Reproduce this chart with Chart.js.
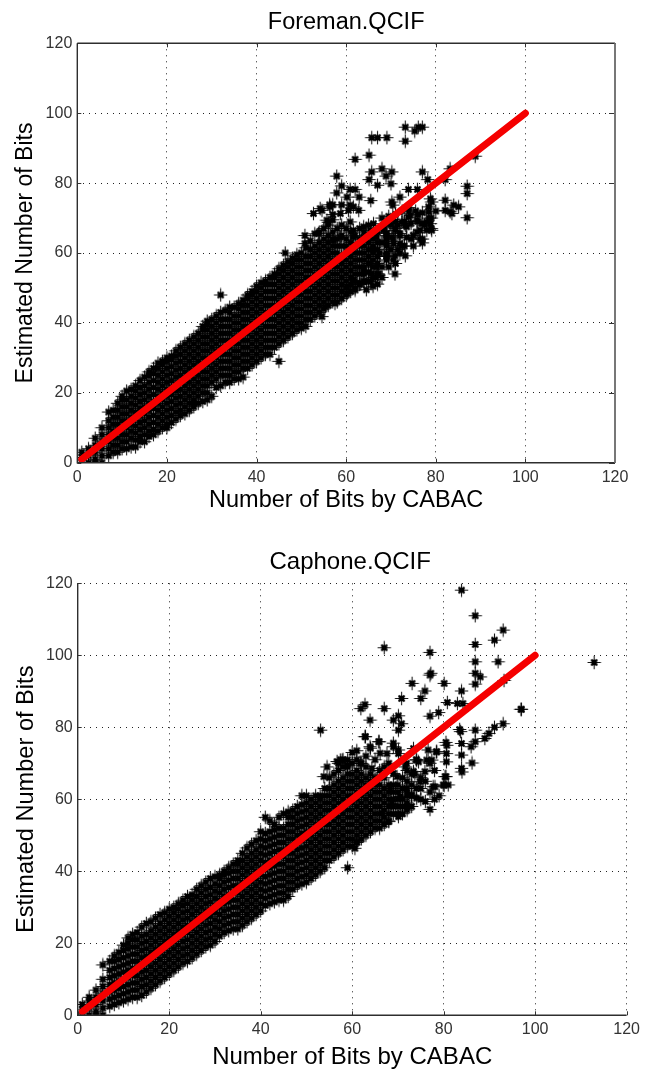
<!DOCTYPE html>
<html><head><meta charset="utf-8">
<script src="https://cdn.jsdelivr.net/npm/chart.js@4"></script>
<style>
html,body{margin:0;padding:0;background:#fff;width:645px;height:1072px;overflow:hidden}
.box{position:absolute;left:0;width:645px}
canvas{display:block}
</style></head><body>
<div class="box" style="top:0;height:515px"><canvas id="c1" width="645" height="515"></canvas></div>
<div class="box" style="top:540px;height:532px"><canvas id="c2" width="645" height="532"></canvas></div>
<script>
const axisTicks = [0,20,40,60,80,100,120];
const refLineX = [1,100];
const refLineY = [1,100];

const foremanColumnX = [1,2.5,4,5.5,7,9,11,13,15,17,19,21,23,25,27,29,31,33,35,37,39,41,43,45,47,49,51,53,55,57,59,61,63,65,67,69];
const foremanColumnY = [
[0,1.5,3],[0,2,4],[0,1,3,5,7],[0,2,4,6,8,10],[2,4,6,8,10,12,14.5],[3,5,7,9,11,13,15,17],
[4,6,8,10,12,14,16,18,20.5],[4.5,6.5,8.5,10.5,12.5,14.5,16.5,18.5,20.5,22],[6,8,10,12,14,16,18,20,22,24.5],
[8,9.5,11.5,13.5,15.5,17.5,19.5,21.5,23.5,25.5,27],[10,12,14,16,18,20,22,24,26,28,29],
[11.5,13.5,15.5,17.5,19.5,21.5,23.5,25.5,27.5,29.5,30.5],[13.5,15,17,19,21,23,25,27,29,31,33],
[15,17,19,21,23,25,27,29,31,33,35],[17,19,21,23,25,27,29,31,33,35,37],[18,20,22,24,26,28,30,32,34,36,38,39.5],
[21.5,24,26,28,30,32,34,36,38,40,42],[23,25,27,29,31,33,35,37,39,41,43.5],[24,26,28,30,32,34,36,38,40,42,44.5],
[24.5,27,29,31,33,35,37,39,41,43,45,46.5],[28,30,32,34,36,38,40,42,44,46,48,49],[30,32,34,36,38,40,42,44,46,48,50,51.5],
[31,33,35,37,39,41,43,45,47,49,51,53],[34,36,38,40,42,44,46,48,50,52,54,55.5],[36,38,40,42,44,46,48,50,52,54,56,57.5],
[38,40,42,44,46,48,50,52,54,56,58,59.5],[39,41,43,45,47,49,51,53,55,57,59,61.5],[42,44,46,48,50,52,54,56,58,60,62,65.5],
[44,46,48,50,52,54,56,58,60,62,64,67],[46,48,50,52,54,56,58,60,62,64,66,69.5],[47,49,51,53,55,57,59,62,65,68],
[49,51,53,55,57,59,61,63,66],[51,54,56,58,60,62,64,67],[52,54.5,57,59,61,63,65,68],[54,57,59,61,63,66],[58,60,62,65]
];
const foremanInnerX = [8,10,12,14,16,18,20,22,24,26,28,30,32,34,36,38,40,42,44,46,48,50,52,54,56,58,60,62,64,66];
const foremanInnerY = [
[3,5,7,9,11,13,15],[4,6,8,10,12,14,16,18,19],[4.5,7,9,11,13,15,17,19,21],[6,7.5,9.5,11.5,13.5,15.5,17.5,19.5,21.5,23.5],
[7.5,9,11,13,15,17,19,21,23,25,26],[9,11,13,15,17,19,21,23,25,27,28.5],[11,13,15,17,19,21,23,25,27,29,30],
[12.5,14.5,16.5,18.5,20.5,22.5,24.5,26.5,28.5,30.5,32],[14,16,18,20,22,24,26,28,30,32,34],[16,18,20,22,24,26,28,30,32,34,36],
[17.5,20,22,24,26,28,30,32,34,36,38,39],[19,23,25,27,29,31,33,35,37,39,41],[22,25,27,29,31,33,35,37,39,41,43],
[23,25,27,29,31,33,35,37,39,41,43,44.5],[24,26,28,30,32,34,36,38,40,42,44,45.5],[27,29,31,33,35,37,39,41,43,45,47,48],
[29,31,33,35,37,39,41,43,45,47,49,50.5],[31,33,35,37,39,41,43,45,47,49,51,52],[33,35,37,39,41,43,45,47,49,51,53,54],
[35,37,39,41,43,45,47,49,51,53,55,56.5],[37,39,41,43,45,47,49,51,53,55,57,58.5],[38.5,40,42,44,46,48,50,52,54,56,58,60],
[41,43,45,47,49,51,53,55,57,59,61,63.5],[43,45,47,49,51,53,55,57,59,61,63,66],[45,47,49,51,53,55,57,59,61,63,65,68],
[46,48,50,52,54,56,58,60,62,64,67],[48,50,52,54,56,58,60,62,64,67],[50,52,54,56,58,60,62,65],[52,54,56,58,60,62,64,66],[53,56,58,60,62,64]
];
const foremanSparseX = [29,45,20,32,26,46.4,52.7,54.2,50.8,53.8,50.8,56,56.3,73.2,75.3,77,76.1,73.2,65.7,67,69.1,65.1,62,65.7,68,70.2,68.9,65.1,67,70,57.9,59,60.9,62,57.9,62.9,60.2,65.5,57,59,60.9,61.6,60.5,62.8,54.6,57,60.9,77,78.2,73.9,75.9,72,70.2,70.4,78.8,79.1,78.4,78.4,82.1,82.1,84,85.1,83.2,83.6,87,87,87,82.1,83.2,88.8,77,79.1,78.8,76.9,75.8,73.2,73.9,75.8,70.9,73.2,69.1,70.9,67.2,67,65.4,65.7,63.9,62,60.2,57.5,55.3,54.6,70.6,72,69.1,71,74,76,72.5,74.5,66,68,71,70.2,72,73.5,70.9,69.1,72.4,74.3,78,78,76.5,69.8,68.3,66.8,61.6,63.9,65.4,66.1,63.9,61.6,58.7,57.2,65.4,63.9,66.8,61.6,63.1,60.2,55.7,58.7,56.4,68,69.5,71,72.5,74,75.5,77,78.5,68.5,70,71.5,73,74.5,76,77.5,79,69,70.5,72,73.5,75,76.5,70,71.5,73,67.5,69,70.5,72,68,69.5,71,66.5,68,64.5,66,75,77,79,80];
const foremanSparseY = [40.5,29,10,48,17,60,71.3,72.7,65,65.6,62.7,68.8,73.8,96,94.9,96,96,92,93,93,93,88,86.8,83.2,84.1,83.2,82,81,79.4,79.8,82,79.2,78.2,78.2,77.2,76,76,75,73.8,73.8,73.7,73.2,72.2,72.2,72.2,71,68.9,83.2,81,78.2,78.2,76,74.6,73.7,75.5,74.6,73.2,71.8,75.1,72.2,73.7,73.2,71.8,71.3,79.1,77,70.1,81,84.1,87.7,62.9,66.5,68.4,68.4,66,67.9,70.3,69.4,59.2,59.2,59.4,54,54,51.1,51.8,54.1,51.8,49.4,48.4,45.6,44.6,41.8,62.7,65.6,65.6,69,72,71,62,64,61,63,67,64.6,62.7,67.5,66.5,62.7,68.9,70.8,68.9,66.5,66.5,68.4,66.5,64.6,64.6,64.6,66.5,68.4,67.5,66.5,64.6,63.7,57,55.1,56,52.2,51.3,50.3,69.4,71.3,73.2,70,70.5,71,72,73,72,71.5,70,67.5,68,68,69,68.5,69,68,67,64,64,65,64.5,65,64,61,61,62,60,59,58,60,56,56,57,53,53,49.5,50.5,62,64,70,72];

const caphoneColumnX = [1,2.5,4,5.5,7,9,11,13,15,17,19,21,23,25,27,29,31,33,35,37,39,41,43,45,47,49,51,53,55,57,59,61,63,65,67,69,71,73,75];
const caphoneColumnY = [
[0,1.5,3],[0,2,4,5],[0,1,3,5,7],[0,2,4,6,8,10,14],[2.5,4.5,6.5,8.5,10.5,12.5,15],[3.5,5.5,7.5,9.5,11.5,13.5,15.5,17.5],
[4.5,6.5,8.5,10.5,12.5,14.5,16.5,18.5,20,21.5],[5,7,9,11,13,15,17,19,21,23],[6.5,8.5,10.5,12.5,14.5,16.5,18.5,20.5,22.5,25.5],
[8.5,10.5,12.5,14.5,16.5,18.5,20.5,22.5,24.5,27],[10.5,12.5,14.5,16.5,18.5,20.5,22.5,24.5,26.5,28.5],
[12.5,14.5,16.5,18.5,20.5,22.5,24.5,26.5,28.5,30],[14.5,16.5,18.5,20.5,22.5,24.5,26.5,28.5,30.5,32],
[16,18,20,22,24,26,28,30,32,33.5],[18,20,22,24,26,28,30,32,34,36],[19.5,21.5,23.5,25.5,27.5,29.5,31.5,33.5,35.5,38],
[22,24,26,28,30,32,34,36,38,39],[23.5,25.5,27.5,29.5,31.5,33.5,35.5,37.5,39.5,41],[24,26,28,30,32,34,36,38,40,42,43],
[26,28,30,32,34,36,38,40,42,44,46.5],[28,30,32,34,36,38,40,42,44,46,48.5],[30.5,32.5,34.5,36.5,38.5,40.5,42.5,44.5,46.5,48.5,50.5,55],
[31.5,33.5,35.5,37.5,39.5,41.5,43.5,45.5,47.5,49.5,51.5,53],[32,34,36,38,40,42,44,46,48,50,52,56],
[35,37,39,41,43,45,47,49,51,53,55,57],[36.5,38.5,40.5,42.5,44.5,46.5,48.5,50.5,52.5,54.5,56.5,58.5,61],
[38,40,42,44,46,48,50,52,54,56,58,60],[40,42,44,46,48,50,52,54,56,58,60,61],[43,45,47,49,51,53,55,57,59,61,63,66],
[45,47,49,51,53,55,57,59,61,63,65,68,70],[41,47,49,51,53,55,57,59,61,63,65,67,69,71],[48,50,52,54,56,58,60,62,64,66,68,71],
[50,52,54,56,58,60,62,64,66,69],[52,54,56,58,60,62,64,66],[53,55,57,59,61,63,66],[56,58,60,62,64],[56,58,60,63,66],[58,61,64,67],[60,63,66]
];
const caphoneInnerX = [8,10,12,14,16,18,20,22,24,26,28,30,32,34,36,38,40,42,44,46,48,50,52,54,56,58,60,62,64,66,68,70,72];
const caphoneInnerY = [
[3,5,7,9,11,13,15,16.5],[4,6,8,10,12,14,16,18,19.5],[5,7,9,11,13,15,17,19,21,22.5],[5.5,8,10,12,14,16,18,20,22,24.5],
[7.5,9.5,11.5,13.5,15.5,17.5,19.5,21.5,23.5,26],[9.5,11.5,13.5,15.5,17.5,19.5,21.5,23.5,25.5,28],[11.5,13.5,15.5,17.5,19.5,21.5,23.5,25.5,27.5,29.5],
[13.5,15.5,17.5,19.5,21.5,23.5,25.5,27.5,29.5,31],[15,17,19,21,23,25,27,29,31,33],[17,19,21,23,25,27,29,31,33,35],
[19,21,23,25,27,29,31,33,35,37],[20.5,22.5,24.5,26.5,28.5,30.5,32.5,34.5,36.5,38.5],[23,25,27,29,31,33,35,37,39,40],
[24,26,28,30,32,34,36,38,40,42],[25,27,29,31,33,35,37,39,41,43,45],[27,29,31,33,35,37,39,41,43,45,47.5],
[29,31,33,35,37,39,41,43,45,47,49,51],[31,33,35,37,39,41,43,45,47,49,51,54],[32,34,36,38,40,42,44,46,48,50,52,55],
[33,35,37,39,41,43,45,47,49,51,53,55,56.5],[36,38,40,42,44,46,48,50,52,54,56,58],[37,39,41,43,45,47,49,51,53,55,57,59,61],
[39,41,43,45,47,49,51,53,55,57,59,61],[41,43,45,47,49,51,53,55,57,59,61,63],[44,46,48,50,52,54,56,58,60,62,64,67],
[46,48,50,52,54,56,58,60,62,64,66,69,71],[47,49,51,53,55,57,59,61,63,65,67,70],[49,51,53,55,57,59,61,63,65,67,70],
[51,53,55,57,59,61,63,65,67],[52,54,56,58,60,62,64,66],[54,56,58,60,62,64],[56,58,60,62,64],[57,59,62,65]
];
const caphoneSparseX = [83.9,86.9,93,91.1,86.9,67,77,86.9,91.9,112.9,77,77.2,86.9,88,86.9,80.1,73.1,75.9,83.9,70.8,75,80.8,83,84.2,62.8,61.9,67,96.9,78.9,77,63.9,70.1,69,70.8,70.1,53.1,93,91.1,89.9,89,86.9,83.5,83.7,86.9,86,83.9,83.9,86.2,83.9,84,80.5,80.7,80.5,80.1,78.4,80.6,80.6,77.7,62.8,63.9,65.9,69,70.1,67.6,61,57.4,54.5,53.8,93.2,73.4,76.6,74.5,73.7,71.6,69,78,79,76,77,74,72,74,77,67,65,63,66,68,72,78,81,97,60,77,76,74.1,72,70.1,68,78.1,80.3,79.9,74.8,75.9,77.4,78.5,76.3,74.1,73.4,71.9,69.8,68.3,71.9,73,70.5,68.7,66.5,60.6,61,62.9,64,65.8,69,70.1,66.1,57.8,61.8,64.3,58.9,56.7];
const caphoneSparseY = [118.1,111,107,104.2,103,102.1,100.8,98.2,98.2,98,94.5,95,95,94,92,92.2,92.2,90.1,90.1,88,88,86.9,86.6,86.6,86.3,85.2,85.2,85,84.1,83.1,82,83.2,82,81,79.2,79.2,81,80,78.3,76.9,79.2,79.4,78.8,76,74.6,75.5,72.3,70.1,68.6,67.6,75.8,75,66.3,63.9,73.2,72.7,70.4,63.5,77.4,74.6,76,74.6,72.7,72.7,73.5,70.9,69,66.3,93,74.1,73.7,70.4,67,69,67.2,68,61,65,62,63,68,71,70,69,71,72,68,70,61,60,64,85,73,57.2,59.4,60.3,58,55.2,53.8,63.5,66.3,64,64.9,67.7,70.9,73.2,70.9,70.9,67.7,70,66.3,63,63,61.2,60.8,58.9,56.1,46.4,48.2,77.4,74.2,76,75.6,73.7,72.8,70.9,70,68.6,69.5,70.5];

function pairs(columnX, columnY, innerX, innerY, sparseX, sparseY){
  const out = [];
  columnX.forEach((x,i)=>columnY[i].forEach(y=>out.push({x,y})));
  innerX.forEach((x,i)=>innerY[i].forEach(y=>out.push({x,y})));
  sparseX.forEach((x,i)=>out.push({x,y:sparseY[i]}));
  return out;
}

// marker sprite: long upright cross, short diagonal cross, heavy centre
function starSprite(){
  const c=document.createElement('canvas');c.width=15;c.height=15;
  const g=c.getContext('2d');
  g.strokeStyle='rgba(0,0,0,.9)';g.lineWidth=1.1;
  g.beginPath();g.moveTo(7.5,.8);g.lineTo(7.5,14.2);g.moveTo(.8,7.5);g.lineTo(14.2,7.5);g.stroke();
  g.strokeStyle='#000';g.lineWidth=1.8;
  g.beginPath();g.moveTo(4.5,4.5);g.lineTo(10.5,10.5);g.moveTo(10.5,4.5);g.lineTo(4.5,10.5);g.stroke();
  g.fillStyle='#000';g.beginPath();g.arc(7.5,7.5,3,0,Math.PI*2);g.fill();
  return c;
}
const starMarker=starSprite();

const boxPlugin = {
  id:'matlabBox',
  afterDatasetsDraw(chart,args,opts){
    const {ctx,chartArea:a,scales:{x,y}} = chart;
    ctx.save();
    ctx.strokeStyle='#333'; ctx.lineWidth=1;
    ctx.beginPath();
    x.ticks.forEach((t,i)=>{const p=Math.round(x.getPixelForTick(i))+.5;
      ctx.moveTo(p,a.bottom);ctx.lineTo(p,a.bottom-4);
      if(opts.full){ctx.moveTo(p,a.top);ctx.lineTo(p,a.top+4);}});
    y.ticks.forEach((t,i)=>{const p=Math.round(y.getPixelForTick(i))+.5;
      ctx.moveTo(a.left,p);ctx.lineTo(a.left+4,p);
      if(opts.full){ctx.moveTo(a.right,p);ctx.lineTo(a.right-6,p);}});
    ctx.stroke();
    ctx.strokeStyle='#2e2e2e'; ctx.lineWidth=1.4;
    ctx.beginPath();
    ctx.moveTo(a.left,a.top);ctx.lineTo(a.left,a.bottom);ctx.lineTo(a.right,a.bottom);
    if(opts.full){ctx.moveTo(a.left,a.top);ctx.lineTo(a.right,a.top);}
    ctx.stroke();
    if(opts.full){ctx.strokeStyle='#777';ctx.lineWidth=2;ctx.beginPath();ctx.moveTo(a.right,a.top);ctx.lineTo(a.right,a.bottom);ctx.stroke();}
    ctx.fillStyle='#000';
    ctx.font=opts.titleSize+'px "Liberation Sans", Arial, sans-serif';
    ctx.textAlign='center';ctx.textBaseline='alphabetic';
    ctx.fillText(opts.title,(a.left+a.right)/2+opts.titleShift,a.top-14);
    ctx.restore();
  }
};

function build(id,cfg){
  const font='"Liberation Sans", Arial, sans-serif';
  const gridOpt={color:'#222',lineWidth:1,drawTicks:false};
  new Chart(document.getElementById(id),{
    type:'scatter',
    plugins:[boxPlugin],
    data:{datasets:[
      {data:refLineX.map((x,i)=>({x,y:refLineY[i]})),showLine:true,borderColor:'#f50000',backgroundColor:'#f50000',borderWidth:7,borderCapStyle:'round',pointRadius:0},
      {data:cfg.points,pointStyle:starMarker,pointRadius:6,showLine:false}
    ]},
    options:{
      responsive:false,animation:false,
      layout:{padding:{left:0,right:cfg.right,top:43.3,bottom:0}},
      plugins:{
        legend:{display:false},tooltip:{enabled:false},title:{display:false},
        matlabBox:{full:cfg.full,title:cfg.title,titleSize:cfg.titleSize,titleShift:cfg.titleShift}
      },
      scales:{
        x:{type:'linear',min:0,max:120,
          afterFit:s=>{s.height=cfg.xHeight},
          afterBuildTicks:s=>{s.ticks=axisTicks.map(value=>({value}))},
          grid:gridOpt,border:{display:false,dash:[1,5]},
          ticks:{color:'#333',font:{family:font,size:16},padding:5,maxRotation:0,autoSkip:false},
          title:{display:true,text:'Number of Bits by CABAC',color:'#000',font:{family:font,size:cfg.xSize},padding:{top:cfg.xTitleTop,bottom:0}}},
        y:{type:'linear',min:0,max:120,
          afterFit:s=>{s.width=cfg.left},
          afterBuildTicks:s=>{s.ticks=axisTicks.map(value=>({value}))},
          grid:gridOpt,border:{display:false,dash:[1,5]},
          ticks:{color:'#333',font:{family:font,size:16},padding:5,autoSkip:false},
          title:{display:true,text:'Estimated Number of Bits',color:'#000',font:{family:font,size:cfg.ySize},padding:{top:12,bottom:0}}}
      }
    }
  });
}
build('c1',{points:pairs(foremanColumnX,foremanColumnY,foremanInnerX,foremanInnerY,foremanSparseX,foremanSparseY),title:'Foreman.QCIF',titleSize:23.5,titleShift:0,left:77.3,right:30,xHeight:52.3,xSize:23.5,xTitleTop:4,ySize:23,full:true});
build('c2',{points:pairs(caphoneColumnX,caphoneColumnY,caphoneInnerX,caphoneInnerY,caphoneSparseX,caphoneSparseY),title:'Caphone.QCIF',titleSize:24,titleShift:-2,left:77.7,right:16,xHeight:56.7,xSize:24,xTitleTop:1,ySize:23.6,full:false});
</script>
</body></html>
